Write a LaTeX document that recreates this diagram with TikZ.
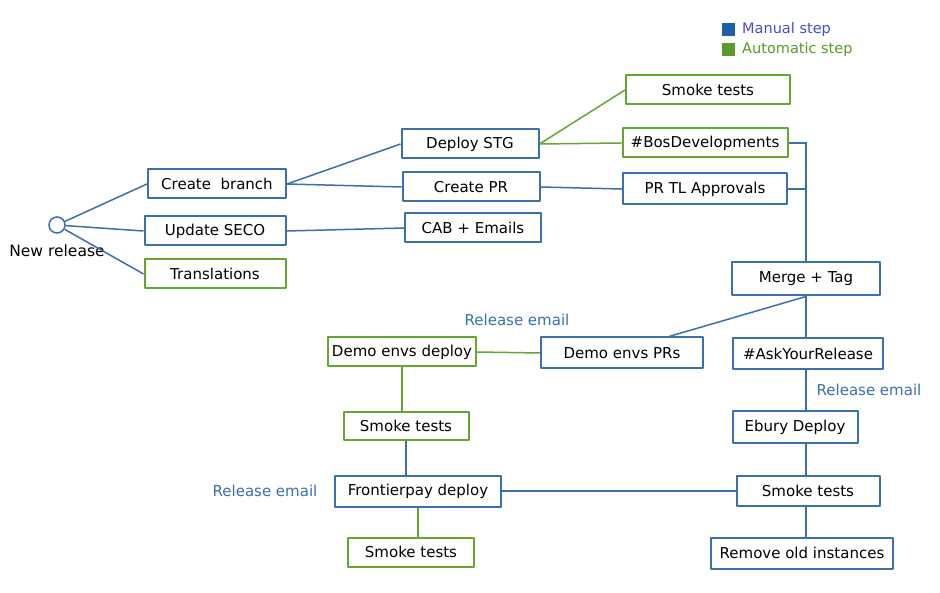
\documentclass[tikz,border=0pt]{standalone}
\usepackage{fontspec}
\setmainfont{DejaVu Sans}
\definecolor{eblue}{HTML}{3A6FB0}
\definecolor{egreen}{HTML}{66A532}
\definecolor{lgblue}{HTML}{1F5FA8}
\definecolor{lgtxt}{HTML}{4B4BCF}
\definecolor{lggreen}{HTML}{5A9A2A}
\begin{document}
\begin{tikzpicture}[x=1pt,y=-1pt,
  base/.style={draw, line width=2pt, inner sep=0pt, minimum height=29pt, font=\fontsize{15}{17}\selectfont, text=black, line join=round},
  mbox/.style={base, draw=eblue},
  abox/.style={base, draw=egreen},
  bl/.style={draw=eblue, line width=1.5pt},
  gl/.style={draw=egreen, line width=1.5pt},
  note/.style={text=eblue, font=\fontsize{15}{17}\selectfont, inner sep=0pt}
]
\useasboundingbox[fill=white] (0,0) rectangle (940,593);

% legend
\node[fill=lgblue, minimum size=13pt, inner sep=0pt] (lgm) at (728,30) {};
\node[fill=lggreen, minimum size=13pt, inner sep=0pt] (lga) at (728,50) {};
\node[anchor=west, text=lgtxt, font=\fontsize{14.5}{16}\selectfont, inner sep=0pt] (lgmt) at (742,30) {Manual step};
\node[anchor=west, text=lggreen, font=\fontsize{14.5}{16}\selectfont, inner sep=0pt] (lgat) at (742,50) {Automatic step};

% start
\node[circle, draw=eblue, line width=1.5pt, minimum size=16pt, inner sep=0pt] (nr) at (57,225) {};
\node[font=\fontsize{15.5}{17}\selectfont, inner sep=0pt] (nrl) at (57,251) {New release};

% column 1
\node[mbox, minimum width=138pt] (cb) at (217,184) {Create\ \ branch};
\node[mbox, minimum width=141pt] (us) at (215,231) {Update SECO};
\node[abox, minimum width=141pt] (tr) at (215,274) {Translations};

% column 2
\node[mbox, minimum width=137pt] (stg) at (470,144) {Deploy STG};
\node[mbox, minimum width=137pt] (cpr) at (471,187) {Create PR};
\node[mbox, minimum width=136pt] (cab) at (473,228) {CAB + Emails};

% column 3
\node[abox, minimum width=164pt] (st1) at (708,90) {Smoke tests};
\node[abox, minimum width=165pt] (bos) at (705,143) {\#BosDevelopments};
\node[mbox, minimum width=164pt, minimum height=31pt] (prtl) at (705,189) {PR TL Approvals};

% right column
\node[mbox, minimum width=148pt, minimum height=33pt] (mt) at (806,279) {Merge + Tag};
\node[mbox, minimum width=150pt, minimum height=31pt] (ask) at (808,354) {\#AskYourRelease};
\node[mbox, minimum width=125pt, minimum height=32pt] (eb) at (795,427) {Ebury Deploy};
\node[mbox, minimum width=143pt, minimum height=30pt] (st4) at (808,491) {Smoke tests};
\node[mbox, minimum width=182pt, minimum height=31pt] (rm) at (802,553) {Remove old instances};

% middle / left bottom
\node[mbox, minimum width=162pt, minimum height=31pt] (dpr) at (622,353) {Demo envs PRs};
\node[abox, minimum width=148pt] (dd) at (402,352) {Demo envs deploy};
\node[abox, minimum width=125pt, minimum height=28pt] (st2) at (406,426) {Smoke tests};
\node[mbox, minimum width=166pt, minimum height=31pt] (fp) at (418,491) {Frontierpay deploy};
\node[abox, minimum width=126pt] (st3) at (411,552) {Smoke tests};

% notes
\node[note] (re1) at (517,320) {Release email};
\node[note] (re2) at (869,390) {Release email};
\node[note] (re3) at (265,491) {Release email};

% connectors
\draw[bl] (nr) -- (cb.west);
\draw[bl] (nr) -- (us.west);
\draw[bl] (nr) -- (tr.west);
\draw[bl] (cb.east) -- (stg.west);
\draw[bl] (cb.east) -- (cpr.west);
\draw[bl] (us.east) -- (cab.west);
\draw[gl] (stg.east) -- (st1.west);
\draw[gl] (stg.east) -- (bos.west);
\draw[bl] (cpr.east) -- (prtl.west);
\draw[bl] (bos.east) -| (mt.north);
\draw[bl] (prtl.east) -- (prtl.east -| mt.north);
\draw[bl] (mt.south) -- ([xshift=-35pt]dpr.north east);
\draw[bl] (mt.south) -- (mt.south |- ask.north);
\draw[gl] (dpr.west) -- (dd.east);
\draw[gl] (dd.south) -- (dd.south |- st2.north);
\draw[bl] (st2.south) -- (st2.south |- fp.north);
\draw[gl] (fp.south) -- (fp.south |- st3.north);
\draw[bl] (ask.south -| mt.south) -- (eb.north -| mt.south);
\draw[bl] (eb.south -| mt.south) -- (st4.north -| mt.south);
\draw[bl] (st4.west) -- (fp.east);
\draw[bl] (st4.south -| mt.south) -- (rm.north -| mt.south);
\end{tikzpicture}
\end{document}
